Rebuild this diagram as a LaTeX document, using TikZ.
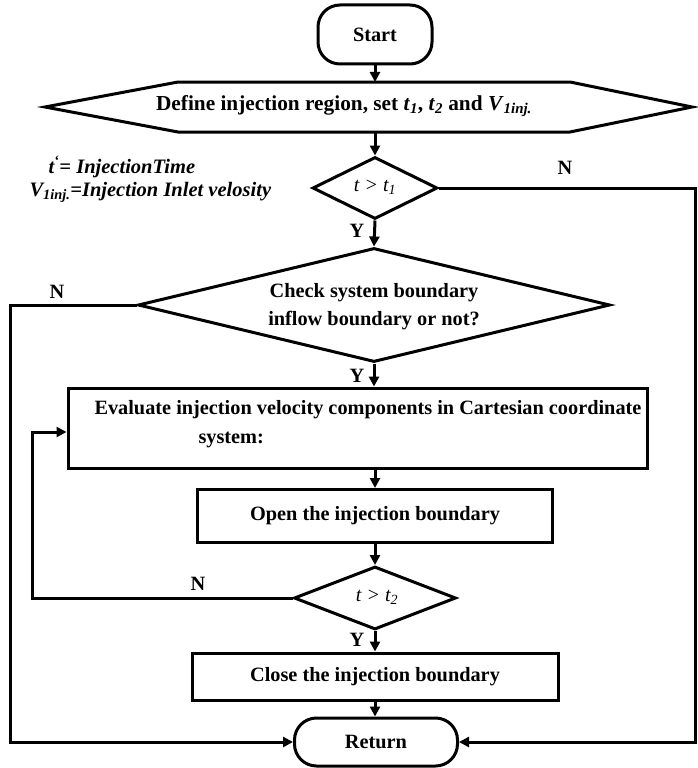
\documentclass[tikz,border=0pt]{standalone}
\usepackage{fontspec}
\setmainfont{Liberation Serif}
\usetikzlibrary{shapes.geometric,arrows.meta}
\newcommand{\ti}[1]{\textit{#1}}
\newcommand{\sbi}[1]{\textsubscript{\textit{#1}}}
\begin{document}
\begin{tikzpicture}[x=1pt,y=-1pt,
  line width=3pt,
  every node/.style={font=\bfseries\fontsize{20.3}{24}\selectfont},
  term/.style={draw,rectangle,rounded corners=22pt,inner sep=0pt},
  procbox/.style={draw,rectangle,inner sep=0pt},
  decis/.style={draw,diamond,inner sep=0pt},
  arr/.style={-{Triangle[length=10pt,width=10pt]}},
  lbl/.style={inner sep=0pt},
  dtext/.style={font=\mdseries\itshape\fontsize{20}{24}\selectfont},
  legend/.style={inner sep=0pt,anchor=west,font=\bfseries\itshape\fontsize{20.5}{24}\selectfont}
]
\useasboundingbox (0,0) rectangle (697,768);
% Start
\node[term,minimum width=114pt,minimum height=59pt] (start) at (375,34.5) {Start};
% hexagon
\coordinate (hT) at (375,82);
\coordinate (hB) at (375,132);
\draw (45,107) -- (178,82) -- (570,82) -- (692,107) -- (570,132) -- (178,132) -- cycle;
\node[lbl,font=\bfseries\fontsize{21.3}{25}\selectfont] (def) at (344,106) {Define injection region, set \ti{t}\sbi{1}, \ti{t}\sbi{2} and \ti{V}\sbi{1inj.}};
% legend
\node[legend] (leg1) at (47,167) {t\textsuperscript{`}= InjectionTime};
\node[legend] (leg2) at (28,192) {V\textsubscript{1inj.}=Injection Inlet velosity};
% diamond t>t1
\node[decis,minimum width=125pt,minimum height=62pt] (d1) at (375,188) {};
\node[lbl,dtext] (d1t) at (375,187) {t > t\textsubscript{1}};
% big diamond
\node[decis,minimum width=472pt,minimum height=114pt] (d2) at (374,305) {};
\node[lbl] (d2a) at (374,293) {Check system boundary};
\node[lbl] (d2b) at (374,321) {inflow boundary or not?};
% evaluate box
\node[procbox,minimum width=579pt,minimum height=80pt] (eval) at (357.5,428) {};
\node[lbl,anchor=west] (evala) at (93,410) {Evaluate injection velocity components in Cartesian coordinate};
\node[lbl,anchor=west] (evalb) at (197,440) {system:};
% open
\node[procbox,minimum width=355pt,minimum height=53pt] (open) at (375,516) {Open the injection boundary};
% diamond t>t2
\node[decis,minimum width=162pt,minimum height=63pt] (d3) at (375,598) {};
\node[lbl,dtext] (d3t) at (377,597) {t > t\textsubscript{2}};
% close
\node[procbox,minimum width=366pt,minimum height=47pt] (close) at (375,676.5) {Close the injection boundary};
% return
\node[term,minimum width=163pt,minimum height=48pt] (ret) at (376,742) {Return};
% connectors
\draw[arr] (start) -- (hT);
\draw[arr] (hB) -- (d1.north);
\draw[arr] (d1.south) -- (d2.north);
\draw[arr] (d2.south) -- (eval.north -| d2.south);
\draw[arr] (eval.south -| open.north) -- (open.north);
\draw[arr] (open.south) -- (d3.north);
\draw[arr] (d3.south) -- (close.north);
\draw[arr] (close.south) -- (ret.north -| close.south);
\coordinate (r1) at (695,188);
\coordinate (l1) at (10,305);
\coordinate (lp) at (32,598);
\coordinate (lq) at (32,432);
\draw[arr] (d1.east) -- (r1) |- (ret.east);
\draw[arr] (d2.west) -- (l1) |- (ret.west);
\draw[arr] (d3.west) -- (lp) -- (lq) -- (lq -| eval.west);
\node[lbl] (y1) at (357,231) {Y};
\node[lbl] (y2) at (357,376) {Y};
\node[lbl] (y3) at (357,640) {Y};
\node[lbl] (n1) at (565,168) {N};
\node[lbl] (n2) at (57,292) {N};
\node[lbl] (n3) at (198,584) {N};
\end{tikzpicture}
\end{document}
